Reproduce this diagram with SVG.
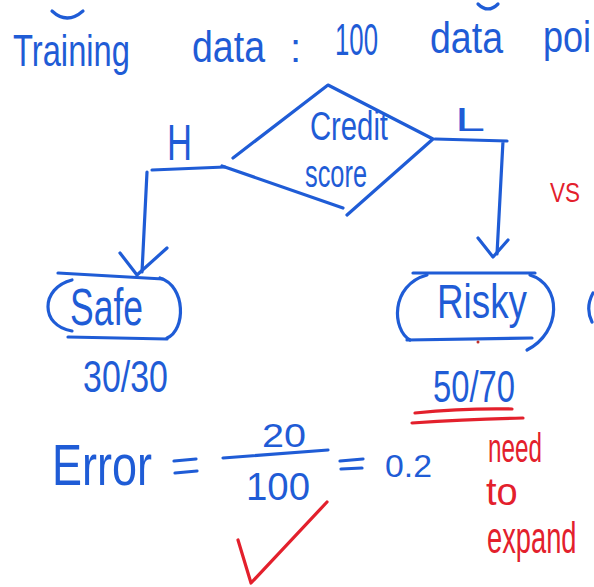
<svg xmlns="http://www.w3.org/2000/svg" width="594" height="587" viewBox="0 0 594 587">
  <style>
    .ink { fill: none; stroke: #1f5cd6; stroke-width: 3.2; stroke-linecap: round; stroke-linejoin: round; }
    .red { fill: none; stroke: #e3202c; stroke-width: 3.2; stroke-linecap: round; stroke-linejoin: round; }
    .t { font-family: "Liberation Sans", Arial, sans-serif; fill: #1f5cd6; }
    .tr { font-family: "Liberation Sans", Arial, sans-serif; fill: #e3202c; }
  </style>
  <rect width="594" height="587" fill="#ffffff"/>

  <!-- heading line -->
  <g id="heading">
    <path class="ink" d="M52,11 Q67,25 83,11"/>
    <path class="ink" d="M478,4 Q488,14 498,4"/>
    <text class="t" x="13" y="66" font-size="44" textLength="117" lengthAdjust="spacingAndGlyphs">Training</text>
    <text class="t" x="192" y="62" font-size="44" textLength="73" lengthAdjust="spacingAndGlyphs">data</text>
    <text class="t" x="290" y="62" font-size="40">:</text>
    <text class="t" x="335" y="55" font-size="44" textLength="43" lengthAdjust="spacingAndGlyphs">100</text>
    <text class="t" x="430" y="53" font-size="44" textLength="73" lengthAdjust="spacingAndGlyphs">data</text>
    <text class="t" transform="translate(543,52) scale(0.82,1)" font-size="44">poi</text>
  </g>

  <!-- decision node -->
  <g id="node-credit-score">
    <path class="ink" d="M233,158 L328,85 L433,139 L347,215"/>
    <path class="ink" d="M222,166 L343,208"/>
    <text class="t" x="310" y="140" font-size="40" textLength="78" lengthAdjust="spacingAndGlyphs">Credit</text>
    <text class="t" x="305" y="187" font-size="38" textLength="62" lengthAdjust="spacingAndGlyphs">score</text>
  </g>

  <!-- branches -->
  <g id="connectors">
    <path class="ink" d="M225,167 L152,170 M147,172 L142,272"/>
    <path class="ink" d="M120,253 L137,275 L167,248"/>
    <path class="ink" d="M435,139 L507,141 M503,141 L497,254"/>
    <path class="ink" d="M478,238 L493,257 L508,240"/>
  </g>

  <g id="branch-labels">
    <text class="t" x="167" y="160" font-size="50" textLength="25" lengthAdjust="spacingAndGlyphs">H</text>
    <text class="t" x="455" y="131" font-size="34" textLength="30" lengthAdjust="spacingAndGlyphs">L</text>
  </g>

  <!-- leaf: Safe -->
  <g id="node-safe">
    <path class="ink" d="M58,273 L163,279"/>
    <path class="ink" d="M160,278 C186,286 186,330 167,338"/>
    <path class="ink" d="M68,337 L167,339"/>
    <path class="ink" d="M72,280 C40,288 40,326 72,331"/>
    <text class="t" x="70" y="325" font-size="52" textLength="73" lengthAdjust="spacingAndGlyphs">Safe</text>
    <text class="t" x="83" y="392" font-size="44" textLength="85" lengthAdjust="spacingAndGlyphs">30/30</text>
  </g>

  <!-- leaf: Risky -->
  <g id="node-risky">
    <path class="ink" d="M413,273 L535,273"/>
    <path class="ink" d="M427,275 C390,285 392,330 410,340"/>
    <path class="ink" d="M407,340 L532,338"/>
    <path class="ink" d="M530,275 C562,285 562,332 527,350"/>
    <text class="t" x="437" y="318" font-size="48" textLength="90" lengthAdjust="spacingAndGlyphs">Risky</text>
    <text class="t" x="433" y="402" font-size="44" textLength="82" lengthAdjust="spacingAndGlyphs">50/70</text>
    <circle cx="478" cy="342" r="1.5" fill="#c0302a"/>
  </g>

  <path class="ink" d="M593,293 Q585,308 592,322"/>

  <!-- error formula -->
  <g id="error">
    <text class="t" x="52" y="485" font-size="58" textLength="100" lengthAdjust="spacingAndGlyphs">Error</text>
    <path class="ink" d="M174,461 L196,459 M175,473 L197,471"/>
    <path class="ink" d="M223,458 L328,450"/>
    <text class="t" x="262" y="447" font-size="33" textLength="44" lengthAdjust="spacingAndGlyphs">20</text>
    <text class="t" x="246" y="500" font-size="38" textLength="64" lengthAdjust="spacingAndGlyphs">100</text>
    <path class="ink" d="M340,461 L363,459 M341,469 L362,468"/>
    <text class="t" x="385" y="477" font-size="31" textLength="47" lengthAdjust="spacingAndGlyphs">0.2</text>
  </g>

  <!-- red annotations -->
  <g id="annotations">
    <text class="tr" x="550" y="202" font-size="28" textLength="30" lengthAdjust="spacingAndGlyphs">VS</text>
    <path class="red" d="M415,413 Q465,408 512,409"/>
    <path class="red" d="M412,423 Q470,419 523,418"/>
    <text class="tr" x="488" y="462" font-size="40" textLength="54" lengthAdjust="spacingAndGlyphs">need</text>
    <text class="tr" x="486" y="505" font-size="38">to</text>
    <text class="tr" transform="translate(487,553) scale(0.62,1)" font-size="44">expand</text>
    <path class="red" d="M238,540 L251,583 L327,502"/>
  </g>
</svg>
